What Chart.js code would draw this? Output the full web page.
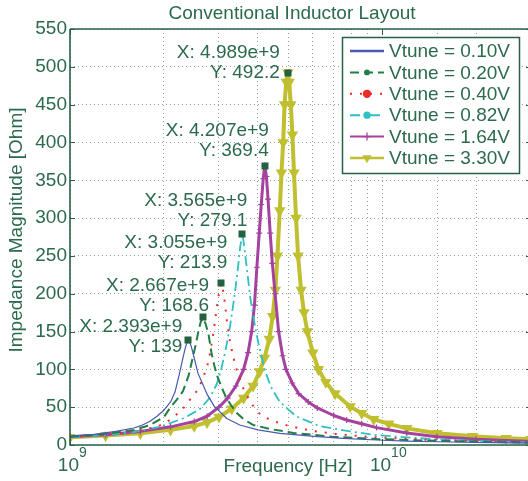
<!DOCTYPE html>
<html>
<head>
<meta charset="utf-8">
<title>Conventional Inductor Layout</title>
<script src="https://cdn.jsdelivr.net/npm/chart.js@4.4.1/dist/chart.umd.min.js"></script>
<style>
  html, body { margin: 0; padding: 0; background: #fff; overflow: hidden; }
  #wrap { position: relative; width: 540px; height: 481px; }
</style>
</head>
<body>
<div id="wrap"><canvas id="chart"></canvas></div>
<script>
// axis ranges and tick labels
const xMin = 1e9;
const xMax = 3e10;
const xDecades = [1e9, 1e10];
const xDecadeExp = ['9', '10'];
const yTicks = [0, 50, 100, 150, 200, 250, 300, 350, 400, 450, 500, 550];

const seriesLabels = ['Vtune = 0.10V', 'Vtune = 0.20V', 'Vtune = 0.40V', 'Vtune = 0.82V', 'Vtune = 1.64V', 'Vtune = 3.30V'];

// frequency [Hz] / impedance [Ohm]
const freq010 = [1.0e9, 1.2e9, 1.4e9, 1.6e9, 1.7e9, 1.8e9, 1.9e9, 2.0e9, 2.1e9, 2.17e9, 2.25e9, 2.3e9, 2.35e9, 2.393e9, 2.44e9, 2.48e9, 2.57e9, 2.75e9, 2.9e9, 3.18e9, 3.5e9, 4.0e9, 4.7e9, 6.2e9, 7.5e9, 9.6e9, 1.2e10, 1.5e10, 2.0e10, 3.0e10];
const imp010 = [11.5, 14, 18, 22.5, 26, 31, 38, 46, 57, 70, 97, 115, 131, 139, 132, 121, 95, 67, 51, 35, 26.5, 20, 15.4, 11, 8.8, 6.6, 5.2, 4.3, 3.4, 2.4];

const freq020 = [1.0e9, 1.2e9, 1.4e9, 1.6e9, 1.8e9, 2.0e9, 2.1e9, 2.2e9, 2.3e9, 2.4e9, 2.45e9, 2.52e9, 2.57e9, 2.62e9, 2.667e9, 2.72e9, 2.78e9, 2.84e9, 2.9e9, 2.97e9, 3.07e9, 3.17e9, 3.3e9, 3.43e9, 3.6e9, 3.86e9, 4.4e9, 5.2e9, 6.9e9, 9.6e9, 1.5e10, 2.0e10, 3.0e10];
const imp020 = [11, 13.5, 16.5, 20, 26, 37, 50, 60, 71, 92, 108, 130, 147, 162, 168.6, 160, 146, 122, 105, 90, 75, 62, 51, 42, 34, 26.5, 21, 16, 11, 7.8, 5.5, 4.5, 3];

const freq040 = [1.0e9, 1.3e9, 1.6e9, 1.9e9, 2.09e9, 2.28e9, 2.42e9, 2.57e9, 2.64e9, 2.75e9, 2.81e9, 2.88e9, 2.95e9, 3.0e9, 3.055e9, 3.11e9, 3.18e9, 3.26e9, 3.38e9, 3.51e9, 3.6e9, 3.8e9, 4.1e9, 4.45e9, 4.95e9, 5.9e9, 7.1e9, 8.9e9, 1.2e10, 1.6e10, 2.2e10, 3.0e10];
const imp040 = [10.8, 14, 18, 24, 33, 46, 59.5, 73, 84, 103.6, 121, 148, 180, 200, 213.9, 200, 165, 135, 106, 86, 74, 55, 39, 32, 26, 19, 14.5, 11, 8, 6, 4.5, 3.5];

const freq082 = [1.0e9, 1.3e9, 1.6e9, 1.94e9, 2.3e9, 2.6e9, 2.8e9, 2.95e9, 3.05e9, 3.15e9, 3.26e9, 3.36e9, 3.44e9, 3.51e9, 3.565e9, 3.62e9, 3.7e9, 3.78e9, 3.92e9, 4.0e9, 4.2e9, 4.4e9, 4.7e9, 5.3e9, 6.3e9, 7.9e9, 9.6e9, 1.2e10, 1.6e10, 2.2e10, 3.0e10];
const imp082 = [10.5, 13, 17, 24, 35, 47, 62, 80, 100, 125, 158, 195, 228, 262, 279.1, 262, 228, 195, 156, 138, 100, 77, 57, 38, 25, 18, 13, 10, 7, 5, 3.5];

const freq164 = [1.0e9, 1.3e9, 1.68e9, 2.1e9, 2.5e9, 2.75e9, 3.0e9, 3.2e9, 3.4e9, 3.6e9, 3.72e9, 3.82e9, 3.9e9, 3.97e9, 4.04e9, 4.1e9, 4.16e9, 4.207e9, 4.26e9, 4.31e9, 4.38e9, 4.45e9, 4.54e9, 4.66e9, 4.8e9, 4.92e9, 5.15e9, 5.4e9, 5.8e9, 6.2e9, 7.0e9, 7.7e9, 8.6e9, 9.6e9, 1.2e10, 1.5e10, 2.0e10, 3.0e10];
const imp164 = [11, 13.5, 18, 24, 31, 38, 50, 62, 78, 100, 122, 150, 185, 235, 280, 318, 352, 369.4, 355, 325, 280, 240, 200, 150, 118, 100, 82, 68, 57, 49, 39, 33, 28, 23, 16, 11, 7.5, 4.5];

const freq330 = [1.0e9, 1.3e9, 1.68e9, 2.1e9, 2.5e9, 2.75e9, 3.0e9, 3.3e9, 3.6e9, 3.86e9, 4.05e9, 4.2e9, 4.35e9, 4.46e9, 4.55e9, 4.62e9, 4.7e9, 4.76e9, 4.82e9, 4.87e9, 4.93e9, 4.989e9, 5.04e9, 5.1e9, 5.16e9, 5.22e9, 5.3e9, 5.38e9, 5.5e9, 5.62e9, 5.76e9, 6.0e9, 6.25e9, 6.6e9, 7.07e9, 7.9e9, 8.6e9, 9.4e9, 1.05e10, 1.2e10, 1.5e10, 1.95e10, 2.5e10, 3.0e10];
const imp330 = [10.3, 12.5, 15.5, 20, 25, 30, 37, 48, 62, 78, 97, 115, 140, 170, 205, 250, 310, 360, 400, 450, 480, 492.2, 480, 450, 410, 360, 300, 250, 205, 175, 150, 122, 100, 83, 68, 51, 42, 34, 28, 22, 15.5, 11.5, 9, 7.5];

// data tips (peaks)
const peakFreqs = [2.393e9, 2.667e9, 3.055e9, 3.565e9, 4.207e9, 4.989e9];
const peakVals = [139, 168.6, 213.9, 279.1, 369.4, 492.2];
const peakXText = ['X: 2.393e+9', 'X: 2.667e+9', 'X: 3.055e+9', 'X: 3.565e+9', 'X: 4.207e+9', 'X: 4.989e+9'];
const peakYText = ['Y: 139', 'Y: 168.6', 'Y: 213.9', 'Y: 279.1', 'Y: 369.4', 'Y: 492.2'];

// styling
const textColor = '#2c6a4c';
const axisColor = '#2a5f47';
const gridColor = 'rgba(60,110,90,0.6)';
const fontFam = '"Liberation Sans", Arial, Helvetica, sans-serif';
const seriesColors = ['#4a5aae', '#1f7f45', '#ee2a2a', '#2fc0c4', '#a5429f', '#bfbf2f'];
const seriesStyles = [
  { borderWidth: 1.2, pointRadius: 0 },
  { borderWidth: 2, borderDash: [9, 5], pointRadius: 0 },
  { borderWidth: 2, borderDash: [2, 8], pointRadius: 0 },
  { borderWidth: 1.8, borderDash: [10, 4, 2, 4], pointRadius: 0 },
  { borderWidth: 3, pointStyle: 'cross', pointRadius: 3, pointBorderWidth: 1.2 },
  { borderWidth: 4, pointStyle: 'triangle', pointRotation: 180, pointRadius: 2.6 }
];
const legendMarks = [
  null,
  { pointStyle: 'circle', radius: 2.2 },
  { pointStyle: 'circle', radius: 3.5 },
  { pointStyle: 'circle', radius: 3 },
  { pointStyle: 'cross', radius: 4 },
  { pointStyle: 'triangle', radius: 4, rotation: 180 }
];
const legendLineWidths = [2.5, 2, 2, 2, 2, 2.5];
// label offsets from the tip marker: [dx of right edge, dy of "Y:" line]
const tipOffsets = [[-6, 7], [6, -12], [6, -20], [5, -13], [4, -15], [-8, 0]];

const seriesFreqs = [freq010, freq020, freq040, freq082, freq164, freq330];
const seriesImps = [imp010, imp020, imp040, imp082, imp164, imp330];

const datasets = seriesLabels.map((lab, i) => Object.assign({
  label: lab,
  data: seriesFreqs[i].map((f, j) => ({ x: f, y: seriesImps[i][j] })),
  borderColor: seriesColors[i],
  backgroundColor: seriesColors[i],
  pointBorderColor: seriesColors[i],
  pointBackgroundColor: seriesColors[i],
  borderJoinStyle: 'round',
  fill: false,
  tension: 0
}, seriesStyles[i]));

const decorPlugin = {
  id: 'decor',
  afterDraw(chart) {
    const { ctx, chartArea: a, scales: { x, y } } = chart;
    ctx.save();

    // axes frame
    ctx.strokeStyle = axisColor;
    ctx.lineWidth = 1.6;
    ctx.setLineDash([]);
    ctx.beginPath();
    ctx.moveTo(a.left, a.top); ctx.lineTo(a.right, a.top);
    ctx.moveTo(a.left, a.top); ctx.lineTo(a.left, a.bottom); ctx.lineTo(a.right, a.bottom);
    ctx.moveTo(a.right, a.top); ctx.lineTo(a.right, a.bottom);
    ctx.stroke();

    // tick marks
    ctx.lineWidth = 1;
    ctx.beginPath();
    yTicks.forEach(v => {
      const py = Math.round(y.getPixelForValue(v)) + 0.5;
      ctx.moveTo(a.left, py); ctx.lineTo(a.left + 5, py);
      ctx.moveTo(a.right, py); ctx.lineTo(a.right - 5, py);
    });
    xDecades.forEach(v => {
      const px = Math.round(x.getPixelForValue(v)) + 0.5;
      ctx.moveTo(px, a.top); ctx.lineTo(px, a.top + 6);
      ctx.moveTo(px, a.bottom); ctx.lineTo(px, a.bottom - 6);
    });
    ctx.stroke();

    ctx.fillStyle = textColor;

    // y tick labels
    ctx.font = '19px ' + fontFam;
    ctx.textAlign = 'right';
    ctx.textBaseline = 'middle';
    yTicks.forEach(v => ctx.fillText(String(v), a.left - 3, y.getPixelForValue(v)));

    // x tick labels 10^n
    xDecades.forEach((v, i) => {
      const px = x.getPixelForValue(v);
      ctx.font = '19px ' + fontFam;
      ctx.textAlign = 'right';
      ctx.textBaseline = 'alphabetic';
      ctx.fillText('10', px + 9, 471);
      ctx.font = '14px ' + fontFam;
      ctx.textAlign = 'left';
      ctx.fillText(xDecadeExp[i], px + 9, 457);
    });

    // title and axis labels
    ctx.font = '19px ' + fontFam;
    ctx.textAlign = 'center';
    ctx.textBaseline = 'middle';
    ctx.fillText('Conventional Inductor Layout', 292, 14);
    ctx.fillText('Frequency [Hz]', 288, 467);
    ctx.save();
    ctx.translate(17, 230);
    ctx.rotate(-Math.PI / 2);
    ctx.fillText('Impedance Magnitude [Ohm]', 0, 0);
    ctx.restore();

    // data tips
    peakFreqs.forEach((f, i) => {
      const px = x.getPixelForValue(f);
      const py = y.getPixelForValue(peakVals[i]);
      ctx.fillStyle = '#25603f';
      ctx.fillRect(Math.round(px) - 3.5, Math.round(py) - 3.5, 7, 7);
      ctx.fillStyle = textColor;
      ctx.textAlign = 'right';
      ctx.textBaseline = 'middle';
      const tx = px + tipOffsets[i][0];
      const ty = py + tipOffsets[i][1];
      ctx.fillText(peakXText[i], tx, ty - 20);
      ctx.fillText(peakYText[i], tx, ty);
    });

    // legend
    const lx = 342, ly = 37, lw = 177, lh = 136;
    ctx.fillStyle = '#ffffff';
    ctx.fillRect(lx, ly, lw, lh);
    ctx.strokeStyle = axisColor;
    ctx.lineWidth = 1.5;
    ctx.strokeRect(lx + 0.5, ly + 0.5, lw, lh);
    chart.data.datasets.forEach((ds, i) => {
      const ry = 51 + i * 21.4;
      ctx.save();
      ctx.strokeStyle = ds.borderColor;
      ctx.lineWidth = legendLineWidths[i];
      ctx.setLineDash(ds.borderDash || []);
      ctx.beginPath();
      ctx.moveTo(350, ry); ctx.lineTo(384, ry);
      ctx.stroke();
      ctx.setLineDash([]);
      const m = legendMarks[i];
      if (m) {
        ctx.fillStyle = ds.borderColor;
        ctx.strokeStyle = ds.borderColor;
        ctx.lineWidth = 1.3;
        Chart.helpers.drawPoint(ctx, { pointStyle: m.pointStyle, radius: m.radius, rotation: m.rotation || 0, borderWidth: 1.3 }, 367, ry);
      }
      ctx.restore();
      ctx.fillStyle = textColor;
      ctx.font = '19px ' + fontFam;
      ctx.textAlign = 'left';
      ctx.textBaseline = 'middle';
      ctx.fillText(ds.label, 389, ry + 1);
    });

    ctx.restore();
  }
};

new Chart(document.getElementById('chart').getContext('2d'), {
  type: 'line',
  data: { datasets: datasets },
  options: {
    responsive: true,
    maintainAspectRatio: false,
    animation: false,
    layout: { padding: { left: 70, top: 29, right: 9, bottom: 36 } },
    plugins: {
      legend: { display: false },
      title: { display: false },
      tooltip: { enabled: false }
    },
    scales: {
      x: {
        type: 'logarithmic',
        min: xMin,
        max: xMax,
        ticks: { display: false },
        grid: { color: gridColor, lineWidth: 1, drawTicks: false },
        border: { display: false, dash: [1, 3] }
      },
      y: {
        type: 'linear',
        min: 0,
        max: 550,
        ticks: { display: false, stepSize: 50 },
        grid: { color: gridColor, lineWidth: 1, drawTicks: false },
        border: { display: false, dash: [1, 3] }
      }
    }
  },
  plugins: [decorPlugin]
});
</script>
</body>
</html>
